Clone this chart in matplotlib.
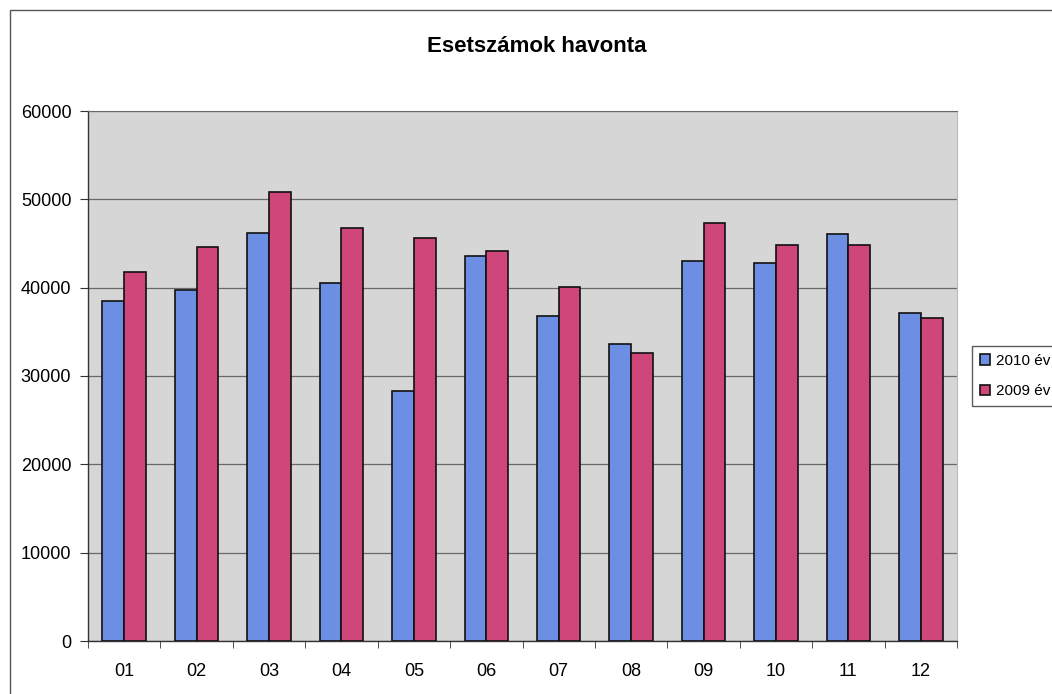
import matplotlib
matplotlib.use("Agg")
import matplotlib.pyplot as plt
from matplotlib.patches import Rectangle
import numpy as np

plt.rcParams['font.family'] = ['Liberation Sans', 'DejaVu Sans']

months = ["01", "02", "03", "04", "05", "06", "07", "08", "09", "10", "11", "12"]
series_2010 = [38500, 39750, 46150, 40500, 28250, 43550, 36750, 33650, 43000, 42800, 46100, 37100]
series_2009 = [41750, 44550, 50800, 46700, 45600, 44200, 40050, 32550, 47350, 44800, 44800, 36550]
labels = ["2010 év", "2009 év"]
yticks = [0, 10000, 20000, 30000, 40000, 50000, 60000]

W, H = 1052, 694
fig = plt.figure(figsize=(W / 100, H / 100), dpi=100)
fig.patch.set_facecolor("white")

# outer chart border (cut at right and bottom)
fig.patches.append(Rectangle((10 / W, -0.1), 1.2, 1 - 10 / H + 0.1, transform=fig.transFigure,
                             fill=False, edgecolor="#555555", linewidth=1.0))

ax = fig.add_axes([88 / W, 1 - 641 / H, (957 - 88) / W, (641 - 111) / H])
ax.set_facecolor("#d6d6d6")

x = np.arange(len(months))
w = 0.30
b1 = ax.bar(x - w / 2, series_2010, width=w, color="#6c8fe4", edgecolor="#111111", linewidth=1.2, zorder=3, label=labels[0])
b2 = ax.bar(x + w / 2, series_2009, width=w, color="#cf467a", edgecolor="#111111", linewidth=1.2, zorder=3, label=labels[1])

ax.set_ylim(0, 60000)
ax.set_xlim(-0.5, len(months) - 0.5)
ax.set_yticks(yticks)
ax.set_yticklabels([str(v) for v in yticks], fontsize=13)
ax.yaxis.grid(True, color="#6a6a6a", linewidth=0.9, zorder=1)
ax.set_axisbelow(True)

ax.set_xticks(x)
ax.set_xticklabels(months, fontsize=13)
ax.tick_params(axis="x", which="major", length=0, pad=16)
ax.set_xticks(np.arange(-0.5, len(months)), minor=True)
ax.tick_params(axis="x", which="minor", length=5, direction="out", color="#333333")
ax.tick_params(axis="y", length=6, direction="out", color="#333333", pad=6)

for s in ["left", "bottom"]:
    ax.spines[s].set_color("#333333")
    ax.spines[s].set_linewidth(1.0)
ax.spines["top"].set_color("#6a6a6a")
ax.spines["right"].set_color("#bbbbbb")

fig.text(537 / W, 1 - 47 / H, "Esetszámok havonta", ha="center", va="center", fontsize=16, fontweight="bold")

leg = fig.legend(handles=[b1, b2], labels=labels, loc="upper left",
                 bbox_to_anchor=(972 / W, 1 - 346 / H), bbox_transform=fig.transFigure,
                 borderaxespad=0, fontsize=11, frameon=True, fancybox=False, edgecolor="#333333",
                 handlelength=0.7, handleheight=0.7, handletextpad=0.4, borderpad=0.5, labelspacing=1.1)
leg.get_frame().set_linewidth(1.0)

fig.savefig("out.png", dpi=100)
